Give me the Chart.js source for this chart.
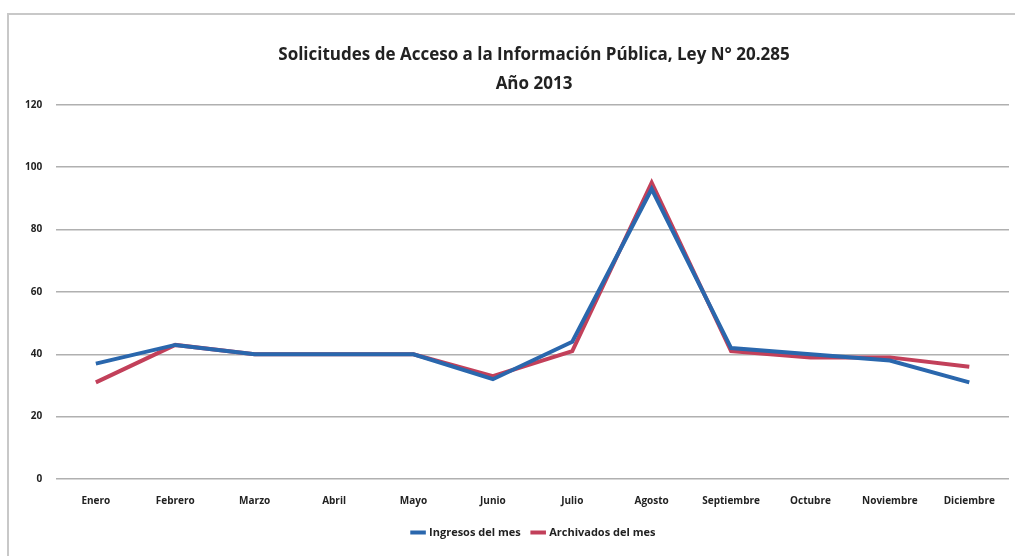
<!DOCTYPE html>
<html>
<head>
<meta charset="utf-8">
<script src="https://cdn.jsdelivr.net/npm/chart.js@4/dist/chart.umd.min.js"></script>
<style>
  body { margin: 0; background: #fff; overflow: hidden; }
  #frame {
    position: absolute; left: 7px; top: 13px; width: 1048px; height: 543px;
    border-left: 2px solid #c8c8c8; border-top: 2px solid #c8c8c8;
  }
</style>
</head>
<body>
<div id="frame"><canvas id="myChart"></canvas></div>
<script>
const meses = ["Enero", "Febrero", "Marzo", "Abril", "Mayo", "Junio", "Julio", "Agosto", "Septiembre", "Octubre", "Noviembre", "Diciembre"];
const ingresos = [37, 43, 40, 40, 40, 32, 44, 93, 42, 40, 38, 31];
const archivados = [31, 43, 40, 40, 40, 33, 41, 95, 41, 39, 39, 36];
const yTicks = [0, 20, 40, 60, 80, 100, 120];

const font = "'Open Sans', 'Liberation Sans', sans-serif";

new Chart("myChart", {
  type: "line",
  data: {
    labels: meses,
    datasets: [
      {
        label: "Ingresos del mes",
        data: ingresos,
        borderColor: "#2a67ad",
        backgroundColor: "#2a67ad",
        borderWidth: 4,
        pointRadius: 0,
        tension: 0,
      },
      {
        label: "Archivados del mes",
        data: archivados,
        borderColor: "#c2405a",
        backgroundColor: "#c2405a",
        borderWidth: 4,
        pointRadius: 0,
        tension: 0,
      },
    ],
  },
  options: {
    responsive: true,
    maintainAspectRatio: false,
    animation: false,
    layout: { padding: { left: 2, right: 0, top: 26, bottom: 10 } },
    plugins: {
      title: {
        display: true,
        text: ["Solicitudes de Acceso a la Información Pública, Ley N° 20.285", "Año 2013"],
        color: "#222",
        font: { family: font, size: 17, weight: "bold", lineHeight: 1.7 },
        padding: { top: 0, bottom: 6 },
      },
      legend: {
        position: "bottom",
        labels: {
          usePointStyle: true,
          pointStyle: "line",
          boxWidth: 40,
          color: "#222",
          font: { family: font, size: 11, weight: "bold" },
          padding: 12,
        },
      },
    },
    scales: {
      x: {
        offset: true,
        grid: { display: false },
        border: { display: false },
        ticks: { color: "#222", font: { family: font, size: 10, weight: "bold" }, padding: 8 },
      },
      y: {
        min: 0,
        max: 120,
        afterBuildTicks: (axis) => { axis.ticks = yTicks.map((v) => ({ value: v })); },
        grid: { color: "#b0b0b0", lineWidth: 1.5, drawTicks: false },
        border: { display: false },
        ticks: { color: "#222", font: { family: font, size: 10, weight: "bold" }, padding: 14 },
      },
      // empty space on the right, the original chart is cut off there
      yRight: {
        position: "right",
        grid: { display: false },
        border: { display: false },
        ticks: { display: false },
        afterFit: (axis) => { axis.width = 48; },
      },
    },
  },
});
</script>
</body>
</html>
